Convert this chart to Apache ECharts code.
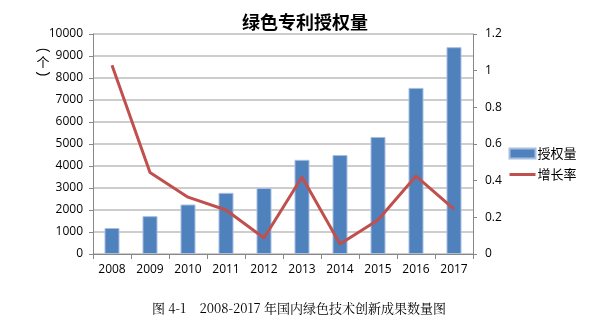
<!DOCTYPE html>
<html><head><meta charset="utf-8">
<script src="https://cdn.jsdelivr.net/npm/echarts@6/dist/echarts.min.js"></script>
<style>html,body{margin:0;padding:0;background:#fff}#c{width:598px;height:324px}</style>
</head><body><div id="c"></div>
<script>
const years = ['2008','2009','2010','2011','2012','2013','2014','2015','2016','2017'];
const grants = [1180, 1720, 2250, 2780, 3000, 4280, 4500, 5320, 7550, 9400];
const growth = [1.03, 0.445, 0.31, 0.24, 0.087, 0.42, 0.055, 0.185, 0.425, 0.245];
const titleText = '绿色专利授权量';
const captionText = '图 4-1    2008-2017 年国内绿色技术创新成果数量图';
const lab = {fontFamily:'Open Sans, Liberation Sans, sans-serif', fontSize:12, color:'#000'};
const chart = echarts.init(document.getElementById('c'), null, {renderer:'canvas'});
chart.setOption({
  animation:false,
  title:{text:titleText, left:300, textAlign:'center', top:8,
    textStyle:{fontFamily:'Noto Sans CJK SC', fontSize:18, fontWeight:'bold', color:'#000'}},
  grid:{left:93, right:125, top:34, bottom:70},
  legend:{orient:'vertical', left:503, top:142, itemGap:8, itemWidth:26, itemHeight:10,
    textStyle:{fontFamily:'Noto Sans CJK SC', fontSize:13, color:'#000', padding:[0,0,0,-3]},
    data:[{name:'授权量', icon:'rect'}, {name:'增长率', itemStyle:{opacity:0}, lineStyle:{width:3, color:'#c0504d'}}]},
  xAxis:{type:'category', data:years,
    axisLine:{lineStyle:{color:'#888', width:1}},
    axisTick:{show:true, length:5, lineStyle:{color:'#888'}},
    axisLabel:Object.assign({margin:10}, lab)},
  yAxis:[{type:'value', min:0, max:10000, interval:1000,
    axisLine:{show:true, lineStyle:{color:'#888'}},
    axisTick:{show:true, length:4, lineStyle:{color:'#888'}},
    splitLine:{lineStyle:{color:'#bdbdbd', width:1.5}},
    axisLabel:Object.assign({margin:10, formatter:v=>String(v)}, lab)},
   {type:'value', min:0, max:1.2, interval:0.2,
    axisLine:{show:true, lineStyle:{color:'#888'}},
    axisTick:{show:true, length:4, lineStyle:{color:'#888'}},
    splitLine:{show:false},
    axisLabel:Object.assign({margin:12, formatter:v=>String(Math.round(v*10)/10)}, lab)}],
  series:[
    {name:'授权量', type:'bar', data:grants, barWidth:15, yAxisIndex:0,
      itemStyle:{color:'#4f81bd', borderColor:'#a7bfe0', borderWidth:1}},
    {name:'增长率', type:'line', data:growth, yAxisIndex:1, symbol:'none',
      lineStyle:{color:'#c0504d', width:3}, itemStyle:{color:'#c0504d'}}
  ],
  graphic:[
    {type:'text', x:43, y:50, rotation:-Math.PI/2, style:{text:'(', fontFamily:'Liberation Sans', fontSize:14, fill:'#000', align:'center', verticalAlign:'middle'}},
    {type:'text', x:43, y:62, style:{text:'个', fontFamily:'Noto Sans CJK SC', fontSize:13, fill:'#000', align:'center', verticalAlign:'middle'}},
    {type:'text', x:43, y:74, rotation:-Math.PI/2, style:{text:')', fontFamily:'Liberation Sans', fontSize:14, fill:'#000', align:'center', verticalAlign:'middle'}},
    {type:'text', left:'center', top:302, style:{text:captionText, fontFamily:'Noto Serif CJK SC, Liberation Serif, serif', fontSize:13, fill:'#000'}}
  ]
});
</script></body></html>
